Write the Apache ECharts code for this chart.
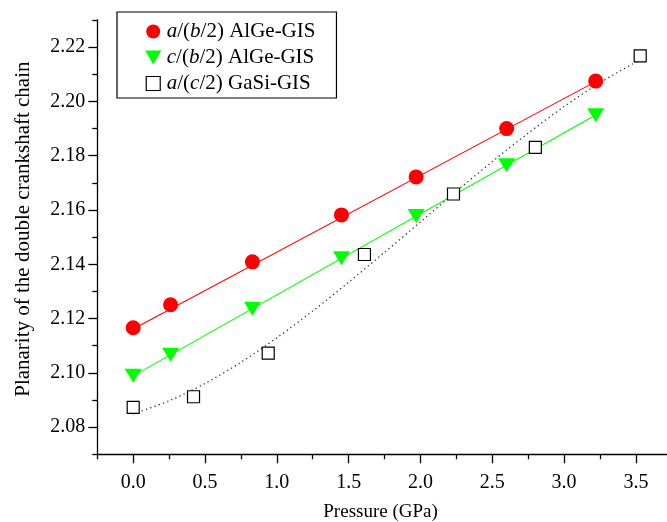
<!DOCTYPE html>
<html>
<head>
<meta charset="utf-8">
<script src="https://cdn.jsdelivr.net/npm/echarts@6/dist/echarts.min.js"></script>
<style>html,body{margin:0;padding:0;background:#fff}#c{width:667px;height:522px}</style>
</head>
<body>
<div id="c"></div>
<script>
// ---- data ----
const xTicks = [0, 0.5, 1.0, 1.5, 2.0, 2.5, 3.0, 3.5];
const xMinorTicks = [-0.25, 0.25, 0.75, 1.25, 1.75, 2.25, 2.75, 3.25, 3.75];
const yTicks = [2.08, 2.10, 2.12, 2.14, 2.16, 2.18, 2.20, 2.22];
const yMinorTicks = [2.07, 2.09, 2.11, 2.13, 2.15, 2.17, 2.19, 2.21, 2.23];

const seriesNames = ['a/(b/2) AlGe-GIS', 'c/(b/2) AlGe-GIS', 'a/(c/2) GaSi-GIS'];

const alGeP = [0, 0.26, 0.83, 1.45, 1.97, 2.60, 3.22];
const abAlGe = [2.1166, 2.1251, 2.1409, 2.1582, 2.1722, 2.1900, 2.2075];
const cbAlGe = [2.0989, 2.1067, 2.1236, 2.1422, 2.1578, 2.1765, 2.1949];

const gaSiP = [0, 0.42, 0.94, 1.61, 2.23, 2.80, 3.53];
const acGaSi = [2.0873, 2.0912, 2.1073, 2.1436, 2.1659, 2.1831, 2.2168];

// fitted lines as drawn in the picture
const abFitP = [0, 3.22];
const abFitV = [2.1162, 2.2073];
const cbFitP = [0, 3.22];
const cbFitV = [2.0989, 2.1950];
const acFitP = [0, 0.25, 0.5, 0.75, 1.0, 1.25, 1.5, 1.75, 2.0, 2.25, 2.5, 2.75, 3.0, 3.25, 3.51];
const acFitV = [2.0849, 2.0897, 2.0961, 2.1039, 2.1129, 2.1228, 2.1334, 2.1444, 2.1556, 2.1669, 2.1778, 2.1883, 2.1981, 2.2069, 2.2148];

const zip = (a, b) => a.map((v, i) => [v, b[i]]);

const FONT = 'Liberation Serif';
const chart = echarts.init(document.getElementById('c'), null, {renderer: 'canvas'});

const baseX = {
  type: 'value', min: -0.25, max: 3.75,
  splitLine: {show: false}
};
const baseY = {
  type: 'value', min: 2.07, max: 2.23,
  splitLine: {show: false}
};

chart.setOption({
  animation: false,
  backgroundColor: '#fff',
  grid: {left: 97.3, right: -4.8, top: 20, bottom: 67.7, containLabel: false, outerBoundsMode: 'none'},
  xAxis: [
    Object.assign({}, baseX, {
      position: 'bottom',
      name: 'Pressure (GPa)', nameLocation: 'middle', nameGap: 48,
      nameTextStyle: {fontFamily: FONT, fontSize: 19, color: '#000', padding: [0, 8, 0, 0]},
      axisLine: {show: true, onZero: false, lineStyle: {color: '#000', width: 1.3}},
      axisTick: {show: true, inside: false, length: 9, customValues: xTicks, lineStyle: {color: '#000', width: 1.3}},
      axisLabel: {show: true, customValues: xTicks, margin: 18, fontFamily: FONT, fontSize: 20, color: '#000',
        formatter: v => v.toFixed(1)}
    }),
    Object.assign({}, baseX, {
      position: 'bottom',
      axisLine: {show: false, onZero: false},
      axisTick: {show: true, inside: false, length: 5, customValues: xMinorTicks, lineStyle: {color: '#000', width: 1.3}},
      axisLabel: {show: false}
    })
  ],
  yAxis: [
    Object.assign({}, baseY, {
      position: 'left',
      name: 'Planarity of the double crankshaft chain', nameLocation: 'middle', nameGap: 63,
      nameTextStyle: {fontFamily: FONT, fontSize: 21, color: '#000', padding: [0, 0, 0, 16]},
      axisLine: {show: true, onZero: false, lineStyle: {color: '#000', width: 1.3}},
      axisTick: {show: true, inside: false, length: 9, customValues: yTicks, lineStyle: {color: '#000', width: 1.3}},
      axisLabel: {show: true, customValues: yTicks, margin: 12, fontFamily: FONT, fontSize: 20, color: '#000',
        formatter: v => v.toFixed(2)}
    }),
    Object.assign({}, baseY, {
      position: 'left',
      axisLine: {show: false, onZero: false},
      axisTick: {show: true, inside: false, length: 5, customValues: yMinorTicks, lineStyle: {color: '#000', width: 1.3}},
      axisLabel: {show: false}
    })
  ],
  legend: {
    orient: 'vertical', left: 117, top: 12,
    backgroundColor: '#fff',
    borderColor: '#000', borderWidth: 1.2, borderRadius: 0,
    padding: [8, 21, 3, 28],
    itemGap: 3, itemWidth: 17, itemHeight: 14,
    symbolKeepAspect: true,
    selectedMode: false,
    textStyle: {fontFamily: FONT, fontSize: 21, color: '#000', lineHeight: 23,
      rich: {i: {fontFamily: FONT, fontSize: 21, fontStyle: 'italic', color: '#000', lineHeight: 23}}},
    formatter: name => {
      const m = name.match(/^(\w)\/\((\w)\/2\)(.*)$/);
      return '{i|' + m[1] + '}/({i|' + m[2] + '}/2)' + m[3];
    },
    data: [
      {name: seriesNames[0], icon: 'circle', itemStyle: {color: '#ff0000'}},
      {name: seriesNames[1], icon: 'path://M0,0L20,0L10,17Z', itemStyle: {color: '#00ff00'}},
      {name: seriesNames[2], icon: 'path://M0,0L10,0L10,10L0,10Z',
        itemStyle: {color: '#fff', borderColor: '#000', borderWidth: 1.2}}
    ]
  },
  series: [
    {type: 'line', name: 'fit1', data: zip(abFitP, abFitV), showSymbol: false, symbol: 'none',
      lineStyle: {color: '#ff0000', width: 1.1}, z: 2},
    {type: 'line', name: 'fit2', data: zip(cbFitP, cbFitV), showSymbol: false, symbol: 'none',
      lineStyle: {color: '#00ff00', width: 1.1}, z: 2},
    {type: 'line', name: 'fit3', data: zip(acFitP, acFitV), showSymbol: false, symbol: 'none',
      smooth: 0.3,
      lineStyle: {color: '#333', width: 1.3, type: [1.3, 3.2]}, z: 2},
    {type: 'scatter', name: seriesNames[0], data: zip(alGeP, abAlGe), symbol: 'circle', symbolSize: 15,
      itemStyle: {color: '#ff0000', opacity: 1}, z: 5},
    {type: 'scatter', name: seriesNames[1], data: zip(alGeP, cbAlGe), symbol: 'triangle', symbolRotate: 180,
      symbolSize: [17, 14], itemStyle: {color: '#00ff00', opacity: 1}, z: 5},
    {type: 'scatter', name: seriesNames[2], data: zip(gaSiP, acGaSi), symbol: 'rect', symbolSize: 12,
      itemStyle: {color: '#fff', borderColor: '#000', borderWidth: 1.2, opacity: 1}, z: 5}
  ]
});
</script>
</body>
</html>
